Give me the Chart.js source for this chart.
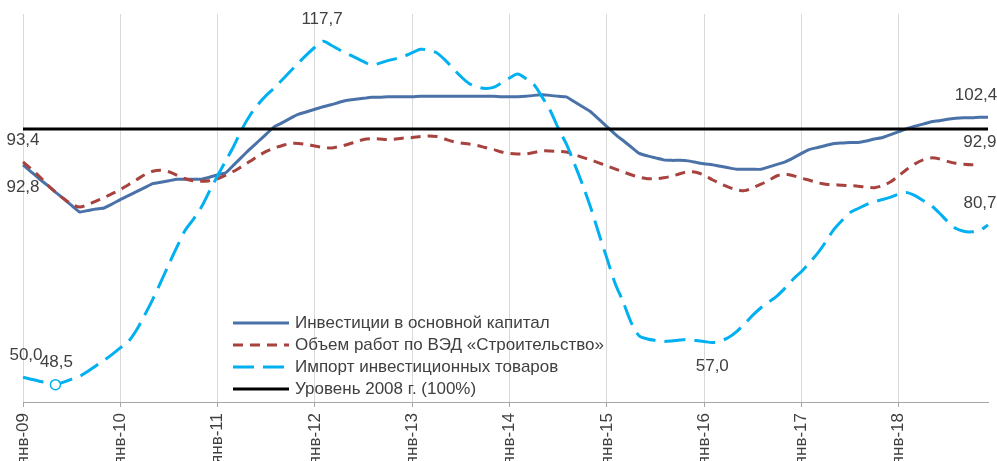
<!DOCTYPE html>
<html lang="ru">
<head>
<meta charset="utf-8">
<title>Инвестиции, строительство и импорт инвестиционных товаров</title>
<script src="https://cdn.jsdelivr.net/npm/chart.js@4.4.1/dist/chart.umd.min.js"></script>
<style>
  html, body { margin: 0; padding: 0; background: #fff; }
  #wrap { width: 997px; height: 461px; }
</style>
</head>
<body>
<div id="wrap"><canvas id="chart" width="997" height="461"></canvas></div>
<script>
// месяцы и годы для оси X (янв-09 ... дек-18)
const monthNames = ['янв', 'фев', 'мар', 'апр', 'май', 'июн', 'июл', 'авг', 'сен', 'окт', 'ноя', 'дек'];
const yearNames = ['09', '10', '11', '12', '13', '14', '15', '16', '17', '18'];

// Инвестиции в основной капитал, 2008 = 100
const investment = [
  92.8, 91.4, 90.0, 88.7, 87.3, 86.0, 84.6, 83.3, 83.6, 83.9, 84.1, 84.9,
  85.8, 86.6, 87.4, 88.2, 89.0, 89.3, 89.6, 89.9, 89.9, 89.9, 89.9, 90.3,
  90.8, 91.2, 92.8, 94.4, 96.0, 97.5, 99.0, 100.5, 101.3, 102.2, 103.0, 103.5,
  104.0, 104.5, 104.9, 105.4, 105.8, 106.0, 106.2, 106.4, 106.4, 106.5, 106.5, 106.5,
  106.5, 106.6, 106.6, 106.6, 106.6, 106.6, 106.6, 106.6, 106.6, 106.6, 106.6, 106.5,
  106.5, 106.5, 106.6, 106.8, 106.9, 106.8, 106.6, 106.5, 105.5, 104.5, 103.5, 102.0,
  100.5, 99.0, 97.7, 96.4, 95.1, 94.6, 94.2, 93.8, 93.7, 93.7, 93.6, 93.3,
  93.0, 92.8, 92.5, 92.2, 91.9, 91.9, 91.9, 91.9, 92.4, 92.9, 93.4, 94.2,
  95.1, 95.9, 96.3, 96.7, 97.1, 97.2, 97.3, 97.3, 97.6, 98.0, 98.3, 98.9,
  99.5, 100.1, 100.6, 101.0, 101.5, 101.7, 102.0, 102.2, 102.3, 102.3, 102.4, 102.4
];

// Объем работ по ВЭД «Строительство» (нет данных за дек-18)
const construction = [
  93.4, 92.0, 90.5, 88.8, 87.3, 86.0, 84.9, 84.3, 84.8, 85.5, 86.2, 87.0,
  87.8, 88.8, 89.8, 90.8, 91.5, 91.7, 91.4, 90.7, 90.0, 89.6, 89.5, 89.6,
  90.0, 90.7, 91.5, 92.5, 93.5, 94.6, 95.5, 96.2, 96.7, 97.1, 97.1, 96.9,
  96.6, 96.3, 96.2, 96.5, 96.9, 97.4, 97.9, 98.1, 98.0, 97.9, 98.0, 98.2,
  98.3, 98.5, 98.6, 98.5, 98.0, 97.5, 97.2, 97.0, 96.7, 96.3, 95.9, 95.4,
  95.1, 95.0, 95.0, 95.3, 95.6, 95.6, 95.5, 95.4, 94.9, 94.3, 93.8, 93.2,
  92.6, 92.0, 91.4, 90.8, 90.3, 90.0, 90.0, 90.2, 90.5, 91.0, 91.4, 91.3,
  90.7, 89.8, 89.0, 88.3, 87.8, 87.6, 88.2, 88.9, 89.7, 90.6, 90.9, 90.6,
  90.1, 89.7, 89.2, 88.9, 88.8, 88.7, 88.6, 88.5, 88.3, 88.2, 88.6, 89.4,
  90.6, 91.9, 93.0, 93.8, 94.2, 94.0, 93.5, 93.1, 92.9, 92.8, 92.9, null
];

// Импорт инвестиционных товаров
const imports = [
  50.0, 49.6, 49.2, 48.9, 48.5, 49.0, 49.6, 50.2, 51.2, 52.3, 53.4, 54.6,
  55.9, 57.2, 59.5, 62.5, 65.7, 69.2, 72.8, 76.3, 79.6, 81.8, 84.3, 87.5,
  90.6, 93.6, 96.6, 100.0, 102.8, 105.0, 106.8, 108.3, 110.0, 111.7, 113.4, 115.0,
  116.5, 117.7, 116.9, 116.0, 115.2, 114.4, 113.6, 112.9, 113.3, 113.8, 114.2, 114.7,
  115.4, 116.1, 115.9, 115.4, 114.0, 112.3, 110.6, 109.2, 108.5, 108.2, 108.4, 109.3,
  110.3, 111.1, 110.2, 109.0, 106.5, 103.8, 100.2, 97.0, 93.0, 88.8, 84.2, 79.0,
  74.0, 69.0, 65.2, 61.0, 58.3, 57.7, 57.4, 57.2, 57.3, 57.5, 57.6, 57.4,
  57.2, 57.0, 57.3, 58.0, 59.2, 60.8, 62.5, 64.0, 65.2, 66.4, 68.0, 69.8,
  71.3, 73.1, 75.0, 77.3, 79.8, 81.6, 83.2, 84.0, 84.8, 85.4, 85.8, 86.3,
  86.9, 87.2, 86.6, 85.6, 84.6, 83.1, 81.4, 80.0, 79.4, 79.3, 79.6, 80.7
];

// Уровень 2008 г.
const level2008 = investment.map(() => 100);

const labels = [];
yearNames.forEach(y => monthNames.forEach(m => labels.push(m + '-' + y)));

const textColor = '#404040';
const fontFamily = "'Liberation Sans', Arial, sans-serif";
const fontSize = 17;
const importMin = imports.indexOf(Math.min(...imports.filter(v => v !== null)));

// подписи значений: [датасет, индекс точки, сдвиг x, сдвиг y]
const pointLabels = [
  [1, 0, 0, -22],
  [0, 0, 0, 22],
  [2, 0, 3, -22],
  [2, 4, 1, -22],
  [2, 37, -1, -22],
  [2, 85, 0, 24],
  [0, 119, -12, -22],
  [1, 118, 0, -22],
  [2, 119, -8, -22]
];

const valueLabelsPlugin = {
  id: 'valueLabels',
  afterDatasetsDraw(chart) {
    const ctx = chart.ctx;
    ctx.save();
    ctx.font = fontSize + 'px ' + fontFamily;
    ctx.fillStyle = textColor;
    ctx.textAlign = 'center';
    ctx.textBaseline = 'middle';
    pointLabels.forEach(([d, i, dx, dy]) => {
      const pt = chart.getDatasetMeta(d).data[i];
      const v = chart.data.datasets[d].data[i];
      ctx.fillText(v.toFixed(1).replace('.', ','), pt.x + dx, pt.y + dy);
    });
    ctx.restore();
  }
};

// легенда внутри области графика
const legendPos = { x: 233, y: 323, len: 56, gap: 6, row: 22 };
const insideLegendPlugin = {
  id: 'insideLegend',
  afterDatasetsDraw(chart) {
    const ctx = chart.ctx;
    ctx.save();
    ctx.font = fontSize + 'px ' + fontFamily;
    ctx.textBaseline = 'middle';
    chart.data.datasets.forEach((ds, k) => {
      const y = legendPos.y + k * legendPos.row;
      ctx.strokeStyle = ds.borderColor;
      ctx.lineWidth = ds.borderWidth;
      ctx.setLineDash(ds.borderDash || []);
      ctx.beginPath();
      ctx.moveTo(legendPos.x, y);
      ctx.lineTo(legendPos.x + legendPos.len, y);
      ctx.stroke();
      ctx.setLineDash([]);
      ctx.fillStyle = textColor;
      ctx.fillText(ds.label, legendPos.x + legendPos.len + legendPos.gap, y);
    });
    ctx.restore();
  }
};

new Chart(document.getElementById('chart'), {
  type: 'line',
  data: {
    labels: labels,
    datasets: [
      {
        label: 'Инвестиции в основной капитал',
        data: investment,
        borderColor: '#4A72A8',
        borderWidth: 3,
        pointRadius: 0,
        tension: 0.15,
        order: 3
      },
      {
        label: 'Объем работ по ВЭД «Строительство»',
        data: construction,
        borderColor: '#A8423E',
        borderWidth: 3,
        borderDash: [10, 7],
        pointRadius: 0,
        tension: 0.3,
        order: 2
      },
      {
        label: 'Импорт инвестиционных товаров',
        data: imports,
        borderColor: '#00B0F0',
        borderWidth: 3,
        borderDash: [21, 9],
        pointRadius: imports.map((v, i) => i === importMin ? 5 : 0),
        pointBackgroundColor: '#ffffff',
        pointBorderColor: '#00B0F0',
        pointBorderWidth: 1.5,
        tension: 0.3,
        order: 1
      },
      {
        label: 'Уровень 2008 г. (100%)',
        data: level2008,
        borderColor: '#000000',
        borderWidth: 3,
        pointRadius: 0,
        order: 0
      }
    ]
  },
  options: {
    responsive: false,
    animation: false,
    layout: { padding: { left: 23, right: 9, top: 14, bottom: 0 } },
    plugins: {
      legend: { display: false },
      tooltip: { enabled: false }
    },
    scales: {
      x: {
        offset: false,
        afterFit(scale) { scale.height = 59; },
        grid: {
          color: '#d9d9d9',
          tickColor: '#a6a6a6',
          tickLength: 5,
          lineWidth: 1
        },
        border: { display: true, color: '#a6a6a6', width: 1 },
        ticks: {
          autoSkip: false,
          maxRotation: 90,
          minRotation: 90,
          padding: 6,
          color: textColor,
          font: { family: fontFamily, size: fontSize },
          callback(value, index) {
            return index % 12 === 0 ? this.getLabelForValue(value) : null;
          }
        }
      },
      y: {
        display: false,
        min: 45,
        max: 123.2
      }
    }
  },
  plugins: [valueLabelsPlugin, insideLegendPlugin]
});
</script>
</body>
</html>
